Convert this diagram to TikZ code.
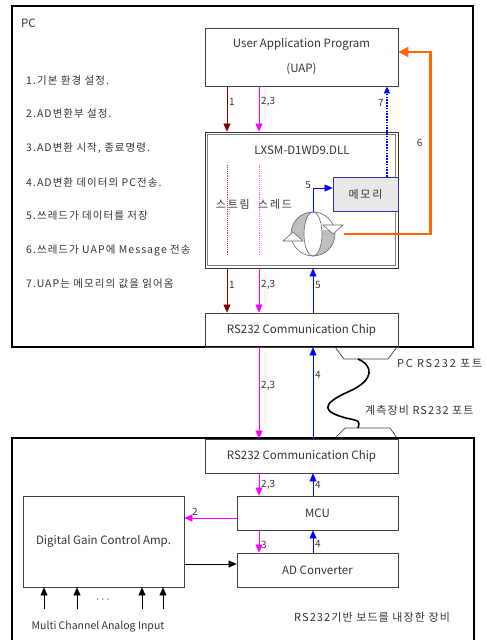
\documentclass[tikz,border=0pt]{standalone}
\usepackage{fontspec}
\setmainfont{Noto Sans CJK KR}
\newfontfamily\widekr{Noto Sans CJK KR}[LetterSpace=16]
\newfontfamily\midkr{Noto Sans CJK KR}[LetterSpace=10]
\usepackage{xcolor}
\usepackage{tikz}
\usetikzlibrary{calc, arrows.meta}

\definecolor{darkred}{HTML}{800000}
\definecolor{pinkline}{HTML}{FF00FF}
\definecolor{blueline}{HTML}{0000FF}
\definecolor{orangeline}{HTML}{FF6600}
\definecolor{boxline}{HTML}{404040}
\definecolor{txt}{HTML}{333333}
\definecolor{memfill}{HTML}{E8E8E8}
\definecolor{memline}{HTML}{333399}

\tikzset{
    box/.style={draw=boxline, line width=0.8pt, inner sep=0pt, align=center},
    frame/.style={draw=black, line width=2.2pt},
    lab/.style={font=\fontsize{10}{11}\selectfont, inner sep=2pt, text=txt},
    listtxt/.style={anchor=west, font=\midkr\fontsize{10.5}{12}\selectfont, inner sep=0pt},
    krlbl/.style={anchor=west, font=\midkr\fontsize{11}{12}\selectfont, inner sep=0pt},
    portline/.style={draw=boxline, line width=0.7pt},
    iconline/.style={draw=black!60, line width=0.6pt}
}

\begin{document}
\begin{tikzpicture}[x=1pt, y=-1pt, >={Triangle[length=8pt,width=7pt]},
    font=\fontsize{11.5}{13}\selectfont, text=txt]
    \useasboundingbox (0,0) rectangle (487,640);

    % Khung PC
    \draw[frame] (12,6) rectangle (473,347);
    \node[anchor=west, inner sep=0pt] (pc) at (21,23) {PC};

    % Danh sách bước
    \node[listtxt] (s1) at (26,81)  {1.기본 환경 설정.};
    \node[listtxt] (s2) at (26,114) {2.AD변환부 설정.};
    \node[listtxt] (s3) at (26,148) {3.AD변환 시작, 종료명령.};
    \node[listtxt] (s4) at (26,183) {4.AD변환 데이터의 PC전송.};
    \node[listtxt] (s5) at (26,216) {5.쓰레드가 데이터를 저장};
    \node[listtxt] (s6) at (26,250) {6.쓰레드가 UAP에 Message 전송};
    \node[listtxt] (s7) at (26,284) {7.UAP는 메모리의 값을 읽어옴};

    % Các khối
    \node[box, minimum width=193pt, minimum height=58pt,
          font=\fontsize{11.5}{25}\selectfont] (uap) at (301.5,57)
          {User Application Program\\(UAP)};
    \node[box, draw=black!80, minimum width=193pt, minimum height=136pt] (dll) at (301.5,200) {};
    \draw[gray, line width=1.2pt] ($(dll.south west)+(3,-3)$) rectangle ($(dll.north east)+(-3,3)$);
    \node (dllname) at (302,150) {LXSM-D1WD9.DLL};
    \node[box, draw=memline, fill=memfill, minimum width=65pt, minimum height=34pt,
          font=\widekr\fontsize{11}{12}\selectfont] (mem) at (365.5,194) {메모리};
    \node[box, minimum width=193pt, minimum height=34pt] (rs1) at (301.5,330) {RS232 Communication Chip};

    % Cột đường nối
    \coordinate (cA) at (227,0);
    \coordinate (cB) at (259,0);
    \coordinate (cC) at (313,0);
    \coordinate (cD) at (387,0);

    % Đường chấm trong DLL
    \draw[darkred!70, densely dotted, line width=0.9pt] (227,165) -- (227,256);
    \draw[pinkline!70, densely dotted, line width=0.9pt] (259,165) -- (259,256);
    \node[inner sep=0pt, font=\widekr\fontsize{11}{12}\selectfont] (thr) at (254,204) {스트림\ \ 스레드};

    % Biểu tượng vòng lặp
    \node[circle, minimum size=44pt, inner sep=0pt] (cyc) at (313,234) {};
    \begin{scope}[shift={(cyc.center)}, x=1pt, y=1pt]
        \fill[white] (0,0) circle [radius=22];
        \fill[gray!50] (0,22) arc[start angle=90, end angle=195, radius=22]
            -- (-8.7,-5.7) arc[start angle=195, end angle=90, x radius=9, y radius=22] -- cycle;
        \fill[gray!50] (21.7,3.8) arc[start angle=10, end angle=-90, radius=22]
            -- (0,-22) arc[start angle=-90, end angle=10, x radius=9, y radius=22] -- cycle;
        \draw[iconline] (0,0) circle [radius=22];
        \draw[iconline] (0,0) ellipse [x radius=9, y radius=22];
        \draw[iconline, fill=white] (-30,-7) -- (-10,-7) -- (-20,2) -- cycle;
        \draw[iconline, fill=white] (10,9) -- (30,9) -- (20,0) -- cycle;
    \end{scope}

    % UAP -> DLL
    \draw[->, darkred] (uap.south -| cA) -- node[lab, right, pos=.35] {1} (dll.north -| cA);
    \draw[->, pinkline] (uap.south -| cB) -- node[lab, right, pos=.35] {2,3} (dll.north -| cB);
    \draw[->, blueline, line width=2.6pt, dash pattern=on 1.6pt off 1.2pt,
          >={Triangle[length=7pt,width=6pt]}]
        (mem.north -| cD) -- node[lab, left, pos=.82] {7} (uap.south -| cD);
    \draw[->, blueline] (cyc.north) |- node[lab, above left, pos=.45] {5} ($(mem.west)+(0,-6)$);
    \draw[->, orangeline, line width=2.2pt, >={Triangle[length=10pt,width=10pt]}]
        ($(cyc.east)+(9,0)$) -| node[lab, left=5pt, pos=.75] {6} ($(uap.east)+(32,-5)$)
        -- ($(uap.east)+(0,-5)$);

    % DLL <-> RS232 (PC)
    \draw[->, darkred] (dll.south -| cA) -- node[lab, right, pos=.38] {1} (rs1.north -| cA);
    \draw[->, pinkline] (dll.south -| cB) -- node[lab, right, pos=.38] {2,3} (rs1.north -| cB);
    \draw[->, blueline] (rs1.north -| cC) -- node[lab, right, pos=.62] {5} (dll.south -| cC);

    % Cổng RS232
    \draw[portline] (335,347) -- (344,359) -- (388,359) -- (397,347);
    \draw[portline] (335,438) -- (345,428) -- (390,428) -- (397,438);
    \coordinate (pcport) at (358,359);
    \coordinate (devport) at (358,428);
    \draw[line width=1.6pt] (pcport) .. controls (374,366) and (374,380) .. (350,391)
        .. controls (318,405) and (324,412) .. (346,418) .. controls (360,421) .. (devport);
    \node[krlbl, font=\widekr\fontsize{11}{12}\selectfont] (pcportlbl) at (397,363) {PC RS232 포트};
    \node[krlbl] (devportlbl) at (365,410) {계측장비 RS232 포트};

    % Khung thiết bị
    \draw[frame] (12,645) -- (12,438) -- (474,438) -- (474,645);
    \node[box, minimum width=193pt, minimum height=34pt] (rs2) at (301.5,456) {RS232 Communication Chip};
    \node[box, minimum width=161pt, minimum height=34pt] (mcu) at (317.5,513) {MCU};
    \node[box, minimum width=161pt, minimum height=34pt] (adc) at (317.5,570) {AD Converter};
    \node[box, minimum width=161pt, minimum height=91pt] (dgc) at (103.5,541.5) {Digital Gain Control Amp.};
    \node[krlbl] (devlbl) at (294,617) {RS232기반 보드를 내장한 장비};

    % RS232 (PC) <-> RS232 (thiết bị)
    \draw[->, pinkline] (rs1.south -| cB) -- node[lab, right, pos=.42] {2,3} (rs2.north -| cB);
    \draw[->, blueline] (rs2.north -| cC) -- node[lab, right, pos=.7] {4} (rs1.south -| cC);

    % Bên trong thiết bị
    \draw[->, pinkline] (rs2.south -| cB) -- node[lab, right] {2,3} (mcu.north -| cB);
    \draw[->, blueline] (mcu.north -| cC) -- node[lab, right] {4} (rs2.south -| cC);
    \draw[->, pinkline] (mcu.south -| cB) -- node[lab, right, pos=.65] {3} (adc.north -| cB);
    \draw[->, blueline] (adc.north -| cC) -- node[lab, right, pos=.4] {4} (mcu.south -| cC);
    \draw[->, pinkline] ($(mcu.west)+(0,5)$) -- node[lab, above, pos=.8] {2} (dgc.east |- {$(mcu.west)+(0,5)$});
    \draw[->] (dgc.east |- {$(adc.west)+(0,-6)$}) -- ($(adc.west)+(0,-6)$);

    % Ngõ vào analog
    \foreach \xx [count=\i] in {44,77,142,163} {
        \coordinate (in\i) at (\xx,609);
        \draw[->] (in\i) -- (dgc.south -| in\i);
    }
    \node (dots) at (103,600) {$\cdots$};
    \node[font=\fontsize{10.5}{11}\selectfont] (inlbl) at (98,627) {Multi Channel Analog Input};
\end{tikzpicture}
\end{document}
